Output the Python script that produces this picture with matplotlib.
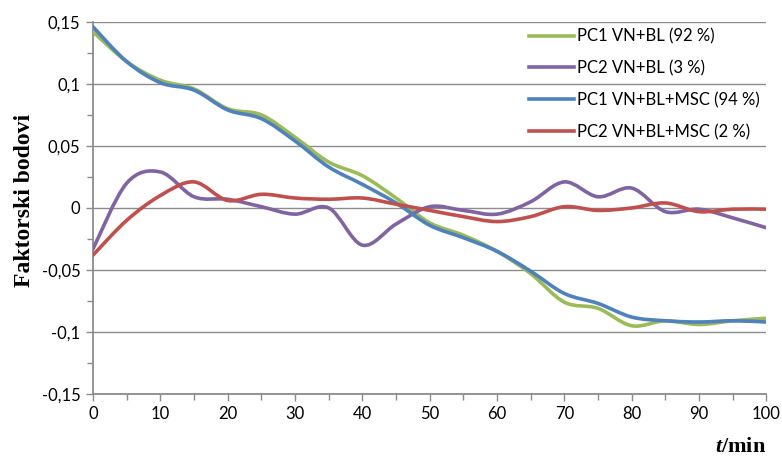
import matplotlib.pyplot as plt
from matplotlib.lines import Line2D
from matplotlib.patches import PathPatch
from matplotlib.path import Path
from matplotlib.ticker import FixedLocator, MultipleLocator

t_min = [0, 5, 10, 15, 20, 25, 30, 35, 40, 45, 50, 55, 60, 65, 70, 75, 80, 85, 90, 95, 100]

pc1_bl = [0.142, 0.118, 0.103, 0.096, 0.080, 0.075, 0.057, 0.037, 0.026, 0.008, -0.012,
          -0.022, -0.035, -0.053, -0.076, -0.081, -0.095, -0.091, -0.094, -0.091, -0.089]
pc2_bl = [-0.033, 0.020, 0.029, 0.009, 0.007, 0.001, -0.005, 0.000, -0.030, -0.013, 0.001,
          -0.002, -0.005, 0.005, 0.021, 0.009, 0.016, -0.003, -0.001, -0.008, -0.016]
pc1_msc = [0.146, 0.118, 0.101, 0.095, 0.079, 0.072, 0.054, 0.033, 0.019, 0.004, -0.014,
           -0.024, -0.035, -0.051, -0.069, -0.077, -0.088, -0.091, -0.092, -0.091, -0.092]
pc2_msc = [-0.038, -0.010, 0.010, 0.021, 0.006, 0.011, 0.008, 0.007, 0.008, 0.003, -0.002,
           -0.007, -0.011, -0.007, 0.001, -0.002, 0.000, 0.004, -0.003, -0.001, -0.001]

series = [
    ("PC1 VN+BL (92 %)", pc1_bl, "#9BBB59"),
    ("PC2 VN+BL (3 %)", pc2_bl, "#8064A2"),
    ("PC1 VN+BL+MSC (94 %)", pc1_msc, "#4F81BD"),
    ("PC2 VN+BL+MSC (2 %)", pc2_msc, "#C0504D"),
]

y_ticks = [-0.15, -0.1, -0.05, 0, 0.05, 0.1, 0.15]
y_labels = ["-0,15", "-0,1", "-0,05", "0", "0,05", "0,1", "0,15"]
x_ticks = [0, 10, 20, 30, 40, 50, 60, 70, 80, 90, 100]

plt.rcParams["mathtext.fontset"] = "custom"
plt.rcParams["mathtext.it"] = "Liberation Serif:italic:bold"


def smooth_path(x, y):
    # cubic Bezier segments through every point (spreadsheet-style smoothed line)
    pts = list(zip(x, y))
    verts = [pts[0]]
    codes = [Path.MOVETO]
    n = len(pts)
    for i in range(n - 1):
        p0 = pts[i - 1] if i > 0 else pts[i]
        p1 = pts[i]
        p2 = pts[i + 1]
        p3 = pts[i + 2] if i + 2 < n else pts[i + 1]
        c1 = (p1[0] + (p2[0] - p0[0]) / 6, p1[1] + (p2[1] - p0[1]) / 6)
        c2 = (p2[0] - (p3[0] - p1[0]) / 6, p2[1] - (p3[1] - p1[1]) / 6)
        verts += [c1, c2, p2]
        codes += [Path.CURVE4] * 3
    return Path(verts, codes)


fig = plt.figure(figsize=(7.82, 4.57), dpi=100)
ax = fig.add_axes([0.119, 0.138, 0.861, 0.814])

handles = []
for label, values, color in series:
    patch = PathPatch(smooth_path(t_min, values), facecolor="none", edgecolor=color,
                      linewidth=2.6, capstyle="round", joinstyle="round", zorder=3)
    ax.add_patch(patch)
    handles.append(Line2D([], [], color=color, linewidth=2.6, label=label))

ax.set_xlim(0, 100)
ax.set_ylim(-0.15, 0.15)

ax.yaxis.set_major_locator(FixedLocator(y_ticks))
ax.set_yticklabels(y_labels)
ax.yaxis.set_minor_locator(MultipleLocator(0.025))
ax.xaxis.set_major_locator(FixedLocator(x_ticks))
ax.xaxis.set_minor_locator(MultipleLocator(5))

grid_col = "#8c8c8c"
ax.grid(True, axis="y", which="major", color=grid_col, linewidth=1.0, zorder=0)
for side in ["top", "right"]:
    ax.spines[side].set_visible(False)
for side in ["left", "bottom"]:
    ax.spines[side].set_color(grid_col)
    ax.spines[side].set_linewidth(1.3)

ax.tick_params(which="both", direction="out", color=grid_col, width=1.0)
ax.tick_params(which="major", length=5, labelsize=12, pad=4)
ax.tick_params(which="minor", length=4)
for lab in ax.get_xticklabels() + ax.get_yticklabels():
    lab.set_fontfamily("Lato")

ax.set_ylabel("Faktorski bodovi", fontfamily="Liberation Serif", fontweight="bold",
              fontsize=17)
ax.yaxis.set_label_coords(-0.086, 0.52)
fig.text(0.98, 0.012, "$t$/min", ha="right", va="baseline",
         fontfamily="Liberation Serif", fontweight="bold", fontsize=16)

leg = ax.legend(handles=handles, loc="upper right", bbox_to_anchor=(1.005, 1.01),
                frameon=False, prop={"family": "Lato", "size": 12},
                handlelength=2.7, handletextpad=0.2, labelspacing=0.95,
                borderaxespad=0.2)

fig.savefig("out.png", dpi=100)
